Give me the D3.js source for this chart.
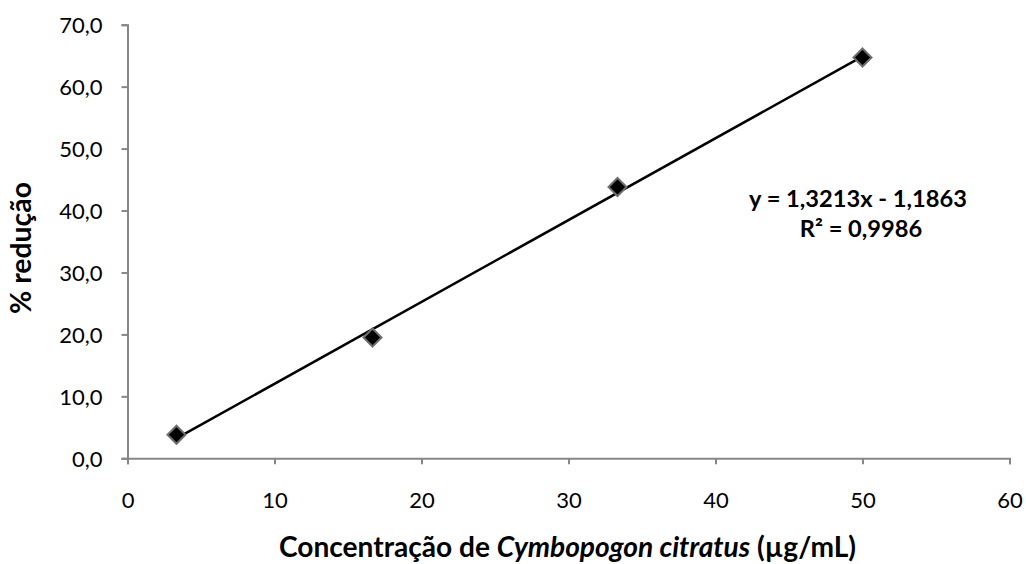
<!DOCTYPE html>
<html>
<head>
<meta charset="utf-8">
<script src="https://cdn.jsdelivr.net/npm/d3@7"></script>
<style>
  html, body { margin: 0; padding: 0; background: #ffffff; }
  svg { display: block; }
</style>
</head>
<body>
<svg id="chart" width="1026" height="564"></svg>
<script>
// Concentration of Cymbopogon citratus (µg/mL) vs. % reduction
const concentrations = [3.333, 16.667, 33.333, 50];
const reductions = [3.8, 19.5, 43.8, 64.7];

// Linear trend line reported on the chart
const slope = 1.3213;
const intercept = -1.1863;
const rSquared = 0.9986;

const xTicks = [0, 10, 20, 30, 40, 50, 60];
const yTicks = [0, 10, 20, 30, 40, 50, 60, 70];

const xTitleParts = [
  { text: "Concentração de ", italic: false },
  { text: "Cymbopogon citratus", italic: true },
  { text: " (µg/mL)", italic: false }
];
const yTitle = "% redução";

const fmtComma = (v, d) => v.toFixed(d).replace(".", ",");

const svg = d3.select("#chart");
const plot = { left: 127.5, right: 1009.5, top: 24.7, bottom: 458.3 };

const x = d3.scaleLinear().domain([0, 60]).range([plot.left, plot.right]);
const y = d3.scaleLinear().domain([0, 70]).range([plot.bottom, plot.top]);

const axisColor = "#868686";
const tickFont = "Lato, 'Liberation Sans', sans-serif";
const titleFont = "Lato, 'Open Sans', sans-serif";

// Scale a text element's font size so that it spans the given width
function fitWidth(sel, width) {
  const node = sel.node();
  const base = 20;
  sel.style("font-size", base + "px");
  const len = node.getComputedTextLength();
  sel.style("font-size", (base * width / len).toFixed(2) + "px");
}

// X axis
const xAxis = svg.append("g")
  .attr("transform", `translate(0,${plot.bottom})`)
  .call(d3.axisBottom(x).tickValues(xTicks).tickSize(6).tickFormat(d => String(d)));
// Y axis
const yAxis = svg.append("g")
  .attr("transform", `translate(${plot.left},0)`)
  .call(d3.axisLeft(y).tickValues(yTicks).tickSize(6).tickPadding(19).tickFormat(d => fmtComma(d, 1)));

[xAxis, yAxis].forEach(g => {
  g.select(".domain").attr("stroke", axisColor).attr("stroke-width", 2);
  g.selectAll(".tick line").attr("stroke", axisColor).attr("stroke-width", 2);
  g.selectAll(".tick text")
    .attr("fill", "#000")
    .style("font-family", tickFont)
    .style("font-size", "22px");
});
xAxis.selectAll(".tick text").attr("dy", null).attr("y", 49.5);
yAxis.selectAll(".tick text").attr("dy", "0.36em");

// Trend line across the data range
const xMin = d3.min(concentrations), xMax = d3.max(concentrations);
svg.append("line")
  .attr("x1", x(xMin)).attr("y1", y(slope * xMin + intercept))
  .attr("x2", x(xMax)).attr("y2", y(slope * xMax + intercept))
  .attr("stroke", "#000")
  .attr("stroke-width", 2.5);

// Diamond markers
const r = 9;
svg.append("g")
  .selectAll("path")
  .data(concentrations.map((c, i) => [c, reductions[i]]))
  .join("path")
  .attr("d", d => {
    const cx = x(d[0]), cy = y(d[1]);
    return `M${cx},${cy - r}L${cx + r},${cy}L${cx},${cy + r}L${cx - r},${cy}Z`;
  })
  .attr("fill", "#000")
  .attr("stroke", "#6e6e6e")
  .attr("stroke-width", 2);

// Equation label
const eqLine1 = svg.append("text")
  .attr("x", 858).attr("y", 206.7)
  .attr("text-anchor", "middle")
  .style("font-family", tickFont)
  .style("font-weight", "bold")
  .attr("fill", "#000")
  .text(`y = ${fmtComma(slope, 4)}x - ${fmtComma(-intercept, 4)}`);
fitWidth(eqLine1, 218);
svg.append("text")
  .attr("x", 861).attr("y", 236.7)
  .attr("text-anchor", "middle")
  .style("font-family", tickFont)
  .style("font-weight", "bold")
  .style("font-size", eqLine1.style("font-size"))
  .attr("fill", "#000")
  .text(`R² = ${fmtComma(rSquared, 4)}`);

// X axis title
const xt = svg.append("text")
  .attr("x", 567.5)
  .attr("y", 557)
  .attr("text-anchor", "middle")
  .style("font-family", titleFont)
  .style("font-weight", "bold")
  .attr("fill", "#000");
xTitleParts.forEach(p => {
  xt.append("tspan").style("font-style", p.italic ? "italic" : "normal").text(p.text);
});
fitWidth(xt, 577);

// Y axis title
const yt = svg.append("text")
  .attr("transform", "translate(31,248) rotate(-90)")
  .attr("text-anchor", "middle")
  .style("font-family", titleFont)
  .style("font-weight", "bold")
  .attr("fill", "#000")
  .text(yTitle);
fitWidth(yt, 132);
</script>
</body>
</html>
